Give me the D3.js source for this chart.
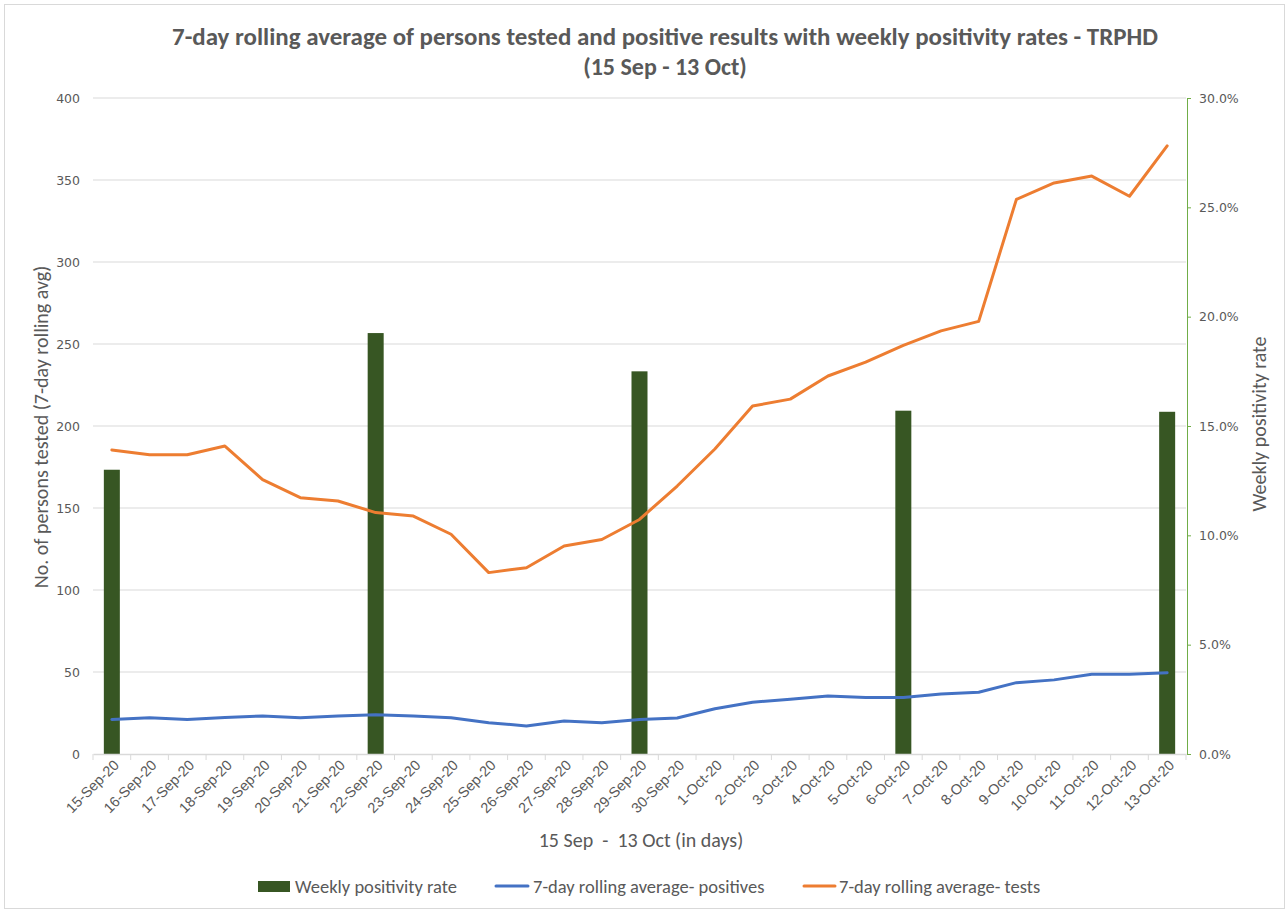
<!DOCTYPE html>
<html><head><meta charset="utf-8">
<script src="https://cdn.jsdelivr.net/npm/d3@7"></script>
<style>
html,body{margin:0;padding:0;background:#fff;}
svg{display:block;font-family:Carlito,Lato,"Open Sans",sans-serif;}
</style></head>
<body><svg id="c" width="1288" height="912"></svg>
<script>
const dates = ["15-Sep-20","16-Sep-20","17-Sep-20","18-Sep-20","19-Sep-20","20-Sep-20","21-Sep-20","22-Sep-20","23-Sep-20","24-Sep-20","25-Sep-20","26-Sep-20","27-Sep-20","28-Sep-20","29-Sep-20","30-Sep-20","1-Oct-20","2-Oct-20","3-Oct-20","4-Oct-20","5-Oct-20","6-Oct-20","7-Oct-20","8-Oct-20","9-Oct-20","10-Oct-20","11-Oct-20","12-Oct-20","13-Oct-20"];
const tests = [185.4,182.5,182.5,187.8,167.3,156.3,154.3,147.2,145.1,134,110.6,113.6,126.8,130.8,143,163.4,186,212.2,216.4,230.5,238.9,249.1,258,263.8,338.2,348.2,352.4,340.1,370.8];
const positives = [21.1,22.1,21.1,22.2,23.2,22.1,23.2,24,23.2,22.1,19.1,17.1,20.1,19.1,21.1,22,27.6,31.6,33.4,35.4,34.5,34.5,36.6,37.7,43.5,45.2,48.6,48.6,49.5];
const rateDates = ["15-Sep-20","22-Sep-20","29-Sep-20","6-Oct-20","13-Oct-20"];
const rates = [0.130,0.1925,0.175,0.157,0.1565];
const leftTicks = [0,50,100,150,200,250,300,350,400];
const rightTicks = [0,0.05,0.10,0.15,0.20,0.25,0.30];

const svg = d3.select("#c");
const grey = "#595959";
const L = 93, R = 1186, T = 98, B = 754;

svg.append("rect").attr("x",4.5).attr("y",4.5).attr("width",1280).attr("height",904)
  .attr("fill","#fff").attr("stroke","#d9d9d9");

const x = d3.scaleBand().domain(dates).range([L,R]).paddingInner(0).paddingOuter(0);
const yL = d3.scaleLinear().domain([0,400]).range([B,T]);
const yR = d3.scaleLinear().domain([0,0.30]).range([B,T]);

// gridlines
svg.append("g").selectAll("line").data(leftTicks.filter(d=>d>0)).join("line")
  .attr("x1",L).attr("x2",R).attr("y1",d=>yL(d)).attr("y2",d=>yL(d))
  .attr("stroke","#d9d9d9").attr("stroke-width",1);

// left axis labels
const gl = svg.append("g").attr("transform",`translate(${L},0)`)
  .call(d3.axisLeft(yL).tickValues(leftTicks).tickSize(0).tickPadding(13));
gl.select(".domain").remove();
gl.selectAll("text").attr("fill",grey).attr("font-family","'DejaVu Sans',sans-serif").style("font-size","12.5px");

// bars
svg.append("g").selectAll("rect").data(rateDates.map((d,i)=>({d,v:rates[i]}))).join("rect")
  .attr("x",d=>x(d.d)+x.bandwidth()/2-8).attr("width",16)
  .attr("y",d=>yR(d.v)).attr("height",d=>B-yR(d.v))
  .attr("fill","#375623");

// x axis
const gx = svg.append("g").attr("transform",`translate(0,${B})`)
  .call(d3.axisBottom(x).tickSize(0).tickPadding(0));
gx.select(".domain").attr("stroke","#d9d9d9").attr("stroke-width",1.5);
gx.selectAll(".tick text").attr("fill",grey).style("font-size","14.5px")
  .attr("text-anchor","end").attr("dy",0)
  .attr("transform","translate(8,12) rotate(-45)");
// boundary tick marks
svg.append("g").selectAll("line").data(d3.range(dates.length+1)).join("line")
  .attr("x1",i=>L+i*x.step()).attr("x2",i=>L+i*x.step())
  .attr("y1",B).attr("y2",B+6).attr("stroke","#d9d9d9").attr("stroke-width",1);

// lines
const cx = d => x(d)+x.bandwidth()/2;
const lineT = d3.line().x((d,i)=>cx(dates[i])).y(d=>yL(d));
svg.append("path").datum(positives).attr("d",lineT).attr("fill","none")
  .attr("stroke","#4472C4").attr("stroke-width",3).attr("stroke-linejoin","round").attr("stroke-linecap","round");
svg.append("path").datum(tests).attr("d",lineT).attr("fill","none")
  .attr("stroke","#ED7D31").attr("stroke-width",3).attr("stroke-linejoin","round").attr("stroke-linecap","round");

// right axis
const gr = svg.append("g").attr("transform",`translate(${R+1},0)`)
  .call(d3.axisRight(yR).tickValues(rightTicks).tickSize(4).tickPadding(8).tickFormat(d3.format(".1%")));
gr.select(".domain").attr("stroke","#70AD47").attr("stroke-width",1);
gr.selectAll(".tick line").attr("stroke","#70AD47");
gr.selectAll("text").attr("fill",grey).attr("font-family","'DejaVu Sans',sans-serif").style("font-size","12.5px");

// titles
svg.append("text").attr("x",665).attr("y",45).attr("text-anchor","middle")
  .attr("font-size",24).attr("font-weight","bold").attr("fill",grey)
  .attr("textLength",986).attr("lengthAdjust","spacingAndGlyphs")
  .text("7-day rolling average of persons tested and positive results with weekly positivity rates - TRPHD");
svg.append("text").attr("x",665).attr("y",75).attr("text-anchor","middle")
  .attr("font-size",24).attr("font-weight","bold").attr("fill",grey)
  .text("(15 Sep - 13 Oct)");

svg.append("text").attr("transform",`translate(48,427) rotate(-90)`).attr("text-anchor","middle")
  .attr("font-size",20).attr("fill",grey).text("No. of persons tested (7-day rolling avg)");
svg.append("text").attr("transform",`translate(1266,424) rotate(-90)`).attr("text-anchor","middle")
  .attr("font-size",20).attr("fill",grey).text("Weekly positivity rate");
svg.append("text").attr("x",641).attr("y",847).attr("text-anchor","middle")
  .attr("font-size",20).attr("fill",grey).attr("xml:space","preserve").text("15 Sep  -  13 Oct (in days)");

// legend
const leg = svg.append("g").attr("font-size",18.5).attr("fill",grey);
leg.append("rect").attr("x",258).attr("y",881).attr("width",32).attr("height",11).attr("fill","#375623");
leg.append("text").attr("x",295).attr("y",893).text("Weekly positivity rate");
leg.append("line").attr("x1",496).attr("x2",528).attr("y1",886).attr("y2",886).attr("stroke","#4472C4").attr("stroke-width",3).attr("stroke-linecap","round");
leg.append("text").attr("x",533).attr("y",893).text("7-day rolling average- positives");
leg.append("line").attr("x1",804).attr("x2",835).attr("y1",886).attr("y2",886).attr("stroke","#ED7D31").attr("stroke-width",3).attr("stroke-linecap","round");
leg.append("text").attr("x",839).attr("y",893).text("7-day rolling average- tests");
</script></body></html>
